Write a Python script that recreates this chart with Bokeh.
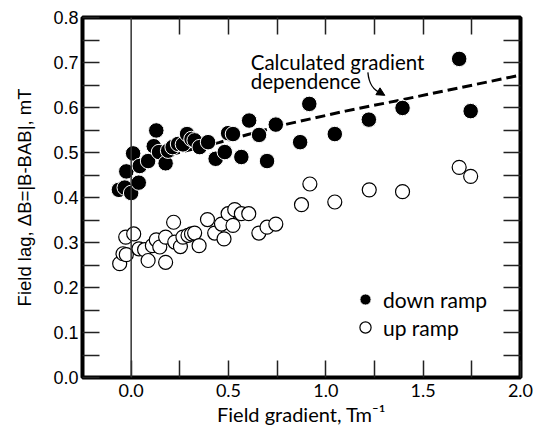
from bokeh.plotting import figure
from bokeh.models import (Range1d, FixedTicker, LinearAxis, Span, Label, Legend,
                          LegendItem, Arrow, NormalHead)
from bokeh.embed import file_html
from bokeh.resources import INLINE

# ---- data ----
down_x = [-0.063, -0.033, -0.025, 0.0, 0.01, 0.039, 0.044, 0.087, 0.116, 0.129,
          0.143, 0.177, 0.19, 0.213, 0.241, 0.266, 0.287, 0.31, 0.326, 0.352,
          0.395, 0.434, 0.481, 0.498, 0.523, 0.566, 0.606, 0.657, 0.698, 0.743,
          0.868, 0.915, 1.046, 1.221, 1.394, 1.685, 1.744]
down_y = [0.417, 0.422, 0.458, 0.41, 0.498, 0.433, 0.47, 0.481, 0.514, 0.549,
          0.501, 0.476, 0.504, 0.512, 0.519, 0.518, 0.541, 0.53, 0.527, 0.512,
          0.523, 0.486, 0.501, 0.543, 0.541, 0.49, 0.571, 0.539, 0.481, 0.562,
          0.523, 0.608, 0.541, 0.573, 0.599, 0.708, 0.592]

up_x = [-0.059, -0.042, -0.025, -0.028, 0.013, 0.04, 0.069, 0.087, 0.109, 0.129,
        0.147, 0.177, 0.177, 0.218, 0.224, 0.253, 0.266, 0.292, 0.31, 0.326,
        0.349, 0.392, 0.429, 0.464, 0.477, 0.498, 0.523, 0.532, 0.566, 0.604,
        0.656, 0.698, 0.743, 0.875, 0.918, 1.046, 1.223, 1.394, 1.685, 1.744]
up_y = [0.253, 0.275, 0.273, 0.312, 0.319, 0.286, 0.284, 0.26, 0.293, 0.306,
        0.29, 0.312, 0.256, 0.345, 0.301, 0.291, 0.312, 0.316, 0.319, 0.321,
        0.293, 0.351, 0.321, 0.341, 0.308, 0.364, 0.338, 0.373, 0.364, 0.364,
        0.321, 0.334, 0.341, 0.384, 0.43, 0.39, 0.417, 0.413, 0.467, 0.447]

calc_x = [0.2, 0.45, 0.6, 0.8, 1.1, 1.4, 1.7, 2.0]
calc_y = [0.495, 0.522, 0.540, 0.563, 0.592, 0.618, 0.645, 0.672]

x_ticks = [0.0, 0.5, 1.0, 1.5, 2.0]
x_tick_labels = ["0.0", "0.5", "1.0", "1.5", "2.0"]
x_minor = [0.25, 0.75, 1.25, 1.75]
y_ticks = [0.0, 0.1, 0.2, 0.3, 0.4, 0.5, 0.6, 0.7, 0.8]
y_tick_labels = ["0.0", "0.1", "0.2", "0.3", "0.4", "0.5", "0.6", "0.7", "0.8"]
y_minor = [0.05, 0.15, 0.25, 0.35, 0.45, 0.55, 0.65, 0.75]

GILL = "Lato"
HELV = "Liberation Sans"

p = figure(width=540, height=431, x_range=Range1d(-0.25, 2.0), y_range=Range1d(0, 0.8),
           output_backend="svg", toolbar_location=None,
           min_border_left=82, min_border_right=20, min_border_top=17, min_border_bottom=54)
p.grid.visible = False
p.outline_line_color = "black"
p.outline_line_width = 4
p.background_fill_color = "white"
p.border_fill_color = "white"

xt = FixedTicker(ticks=x_ticks, minor_ticks=x_minor)
yt = FixedTicker(ticks=y_ticks, minor_ticks=y_minor)
# top/right axes carry ticks only (no labels)
xt_top = FixedTicker(ticks=[], minor_ticks=x_ticks[1:-1] + x_minor)
yt_right = FixedTicker(ticks=[], minor_ticks=y_ticks[1:-1] + y_minor)


def style_axis(ax):
    ax.axis_line_color = None
    ax.major_tick_in = 17
    ax.major_tick_out = 0
    ax.minor_tick_in = 17
    ax.minor_tick_out = 0
    ax.major_tick_line_width = 1.5
    ax.minor_tick_line_width = 1.5
    ax.major_tick_line_color = "#222222"
    ax.minor_tick_line_color = "#222222"


xa = p.xaxis[0]
xa.ticker = xt
style_axis(xa)
xa.major_label_overrides = {t: l for t, l in zip(x_ticks, x_tick_labels)}
xa.major_label_text_font = GILL
xa.major_label_text_font_size = "18px"
xa.major_label_text_color = "black"
xa.major_label_standoff = 6
xa.axis_label = "Field gradient, Tm\u207b\u00b9"
xa.axis_label_text_font = GILL
xa.axis_label_text_font_size = "20px"
xa.axis_label_text_font_style = "normal"
xa.axis_label_text_color = "black"
xa.axis_label_standoff = 2

ya = p.yaxis[0]
ya.ticker = yt
style_axis(ya)
ya.major_label_overrides = {t: l for t, l in zip(y_ticks, y_tick_labels)}
ya.major_label_text_font = HELV
ya.major_label_text_font_size = "18px"
ya.major_label_text_color = "black"
ya.major_label_standoff = 4
ya.axis_label = "Field lag, \u0394B=|B-BAB|, mT"
ya.axis_label_text_font = HELV
ya.axis_label_text_font_size = "18.5px"
ya.axis_label_text_font_style = "normal"
ya.axis_label_text_color = "black"
ya.axis_label_standoff = 15

top = LinearAxis(ticker=xt_top, major_label_standoff=0)
style_axis(top)
right = LinearAxis(ticker=yt_right, major_label_standoff=0)
style_axis(right)
p.add_layout(top, "above")
p.add_layout(right, "right")

# vertical zero line
p.add_layout(Span(location=0, dimension="height", line_color="#333333", line_width=1.5))

# calculated dependence
p.line(calc_x, calc_y, line_color="black", line_width=3, line_dash="10 5")

r_up = p.scatter(up_x, up_y, marker="circle", size=14, fill_color="white",
                 line_color="black", line_width=1.2)
r_down = p.scatter(down_x, down_y, marker="circle", size=15.5, fill_color="black",
                   line_color="white", line_width=1)

# annotation with curved arrow
p.add_layout(Label(x=0.614, y=0.701, text="Calculated gradient", text_font=GILL,
                   text_font_size="20.5px", text_baseline="alphabetic", text_color="black"))
p.add_layout(Label(x=0.614, y=0.658, text="dependence", text_font=GILL,
                   text_font_size="20.5px", text_baseline="alphabetic", text_color="black"))
p.bezier(x0=[1.216], y0=[0.678], x1=[1.285], y1=[0.632], cx0=[1.222], cy0=[0.650],
         cx1=[1.245], cy1=[0.638], line_color="black", line_width=1.3)
p.add_layout(Arrow(end=NormalHead(size=8, fill_color="black", line_color="black", line_width=1),
                   x_start=1.27, y_start=0.6355, x_end=1.303, y_end=0.627,
                   line_color="black", line_width=1.3))

legend = Legend(items=[LegendItem(label="down ramp", renderers=[r_down]),
                       LegendItem(label="up ramp", renderers=[r_up])],
                location=(267, 36), orientation="vertical")
legend.label_text_font = GILL
legend.label_text_font_size = "21px"
legend.label_text_color = "black"
legend.glyph_width = 32
legend.glyph_height = 28
legend.spacing = 0
legend.padding = 0
legend.margin = 0
legend.label_standoff = 2
legend.background_fill_alpha = 0
legend.border_line_color = None
p.add_layout(legend)

open("out.html", "w").write(file_html(p, INLINE))
